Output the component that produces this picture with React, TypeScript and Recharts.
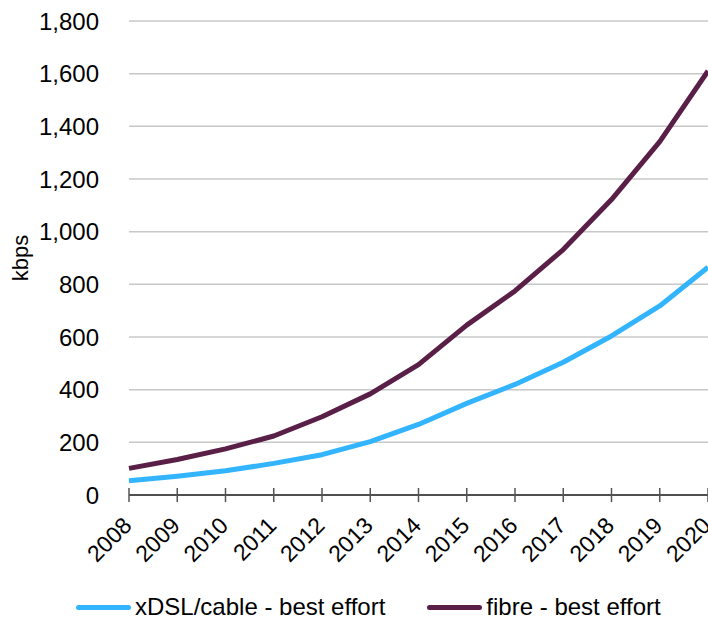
import React from 'react';
import { LineChart, Line, XAxis, YAxis, CartesianGrid, Legend } from 'recharts';

// Bandwidth per subscriber, 2008–2020 (kbps)
const years = ['2008', '2009', '2010', '2011', '2012', '2013', '2014', '2015', '2016', '2017', '2018', '2019', '2020'];
const xdslCable = [54, 71, 92, 120, 153, 203, 268, 348, 420, 504, 604, 718, 865];
const fibre = [101, 135, 175, 224, 297, 384, 495, 645, 775, 932, 1122, 1342, 1610];
const yTicks = [0, 200, 400, 600, 800, 1000, 1200, 1400, 1600, 1800];

const seriesInfo = [
  { key: 'xdsl', name: 'xDSL/cable - best effort', color: '#33B4FF' },
  { key: 'fibre', name: 'fibre - best effort', color: '#5A1F47' },
];

const data = years.map((year, i) => ({ year, xdsl: xdslCable[i], fibre: fibre[i] }));

const FONT = '"Liberation Sans", Arial, Helvetica, sans-serif';
const FONT_SIZE = 24;

const fmt = (v: number) => v.toLocaleString('en-US');

// Tick marks cross the axis line, labels rotated 45°
const XTick = (props: any) => {
  const { x, y, payload } = props;
  return (
    <g>
      <line x1={x} x2={x} y1={y - 7} y2={y + 7} stroke="#555" strokeWidth={1.5} />
      <text
        x={x + 4}
        y={y + 32}
        textAnchor="end"
        transform={`rotate(-45, ${x + 4}, ${y + 32})`}
        fontSize={FONT_SIZE - 1}
        fontFamily={FONT}
        fill="#000"
      >
        {payload.value}
      </text>
    </g>
  );
};

const YTitle = (props: any) => {
  const { viewBox } = props;
  const cx = viewBox.x + 20;
  const cy = viewBox.y + viewBox.height / 2;
  return (
    <text
      x={cx}
      y={cy}
      textAnchor="middle"
      dominantBaseline="central"
      transform={`rotate(-90, ${cx}, ${cy})`}
      fontSize={FONT_SIZE - 2}
      fontFamily={FONT}
      fill="#000"
    >
      kbps
    </text>
  );
};

const LegendContent = () => (
  <div
    style={{
      display: 'flex',
      alignItems: 'center',
      height: 24,
      lineHeight: '24px',
      paddingLeft: 76,
      fontFamily: FONT,
      fontSize: FONT_SIZE,
      color: '#000',
      whiteSpace: 'nowrap',
    }}
  >
    {seriesInfo.map((s, i) => (
      <div key={s.key} style={{ display: 'flex', alignItems: 'center', marginLeft: i === 0 ? 0 : 42 }}>
        <div style={{ width: 55, height: 5, borderRadius: 3, background: s.color, marginRight: 4 }} />
        <span>{s.name}</span>
      </div>
    ))}
  </div>
);

export default function App() {
  return (
    <div
      style={{
        position: 'absolute',
        left: 0,
        top: 0,
        width: 708,
        height: 619,
        overflow: 'hidden',
        background: '#fff',
      }}
    >
      <LineChart
        width={760}
        height={619}
        data={data}
        margin={{ top: 21, right: 52, bottom: 0, left: 0 }}
        style={{ fontFamily: FONT }}
      >
        <CartesianGrid vertical={false} stroke="#C8C8C8" strokeWidth={1.5} />
        <XAxis
          dataKey="year"
          height={100}
          tickSize={0}
          tickMargin={0}
          tickLine={false}
          axisLine={{ stroke: '#222', strokeWidth: 1.5 }}
          tick={<XTick />}
          interval={0}
        />
        <YAxis
          width={129}
          domain={[0, 1800]}
          ticks={yTicks}
          tickFormatter={fmt}
          axisLine={false}
          tickLine={false}
          tickSize={0}
          tickMargin={30}
          tick={{ fontSize: FONT_SIZE, fontFamily: FONT, fill: '#000' }}
          label={<YTitle />}
        />
        <Legend verticalAlign="bottom" align="left" content={<LegendContent />} />
        {seriesInfo.map((s) => (
          <Line
            key={s.key}
            dataKey={s.key}
            name={s.name}
            type="linear"
            stroke={s.color}
            strokeWidth={5}
            dot={false}
            activeDot={false}
            strokeLinejoin="round"
            isAnimationActive={false}
          />
        ))}
      </LineChart>
    </div>
  );
}
